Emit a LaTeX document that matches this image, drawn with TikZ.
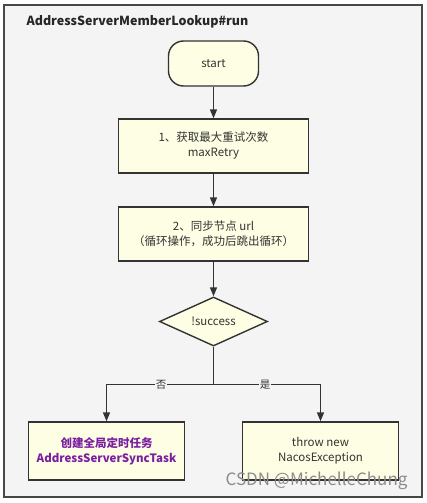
\documentclass[tikz,border=0pt]{standalone}
\usepackage{fontspec}
\setmainfont{Noto Sans CJK SC}
\usetikzlibrary{shapes.geometric,arrows.meta}
\definecolor{bgc}{HTML}{F4F4F4}
\definecolor{boxc}{HTML}{FEFEE4}
\definecolor{linec}{HTML}{333333}
\definecolor{purp}{HTML}{7A1FA2}
\tikzset{
  box/.style={draw=linec,fill=boxc,line width=1.4pt,minimum width=190pt,minimum height=54pt,align=center,font=\fontsize{11.5}{15}\selectfont,text=black!80},
  bbox/.style={box,minimum width=156pt,minimum height=58pt},
  startbox/.style={box,rounded corners=15pt,minimum width=90pt,minimum height=45pt},
  dec/.style={draw=linec,fill=boxc,line width=1.4pt,diamond,aspect=2.2,minimum width=108pt,minimum height=49pt,inner sep=0pt,font=\fontsize{11.5}{15}\selectfont,text=black!80},
  conn/.style={draw=linec,line width=1.5pt},
  arr/.style={conn,-{Triangle[length=9pt,width=7pt]}},
  lbl/.style={fill=bgc,inner sep=1pt,font=\fontsize{10.5}{12}\selectfont,text=black!80}
}
\begin{document}
\begin{tikzpicture}[x=1pt,y=-1pt]
\useasboundingbox (0,0) rectangle (427,503);
\fill[white] (0,0) rectangle (427,503);
\draw[draw=linec!90,fill=bgc,line width=1.4pt] (4,5) rectangle (422,497);
\node[anchor=west,font=\bfseries\fontsize{12.5}{14}\selectfont,text=black!85] (title) at (23,22) {AddressServerMemberLookup\#run};
\node[startbox] (start) at (213.5,63.5) {start};
\node[box] (s1) at (213.5,146) {1、获取最大重试次数\\maxRetry};
\node[box] (s2) at (213.5,234) {2、同步节点 url\\（循环操作，成功后跳出循环）};
\node[dec] (d) at (213.5,321.5) {!success};
\node[bbox,font=\bfseries\fontsize{11.5}{15}\selectfont,text=purp] (l) at (106.5,451) {创建全局定时任务\\AddressServerSyncTask};
\node[bbox] (r) at (320.5,451) {throw new\\NacosException};
\coordinate (j) at (213.5,384.5);
\coordinate (jl) at (106.5,384.5);
\coordinate (jr) at (320.5,384.5);
\draw[arr] (start) -- (s1);
\draw[arr] (s1) -- (s2);
\draw[arr] (s2) -- (d);
\draw[conn] (d.south) -- (j);
\draw[arr] (j) -- (jl) -- (l.north);
\draw[arr] (j) -- (jr) -- (r.north);
\node[lbl] (no) at (161,384.5) {否};
\node[lbl] (yes) at (265,384.5) {是};
\node[font=\fontsize{17}{18}\selectfont,text=black!45,anchor=east] (wm) at (411,481) {CSDN @MichelleChung};
\end{tikzpicture}
\end{document}
